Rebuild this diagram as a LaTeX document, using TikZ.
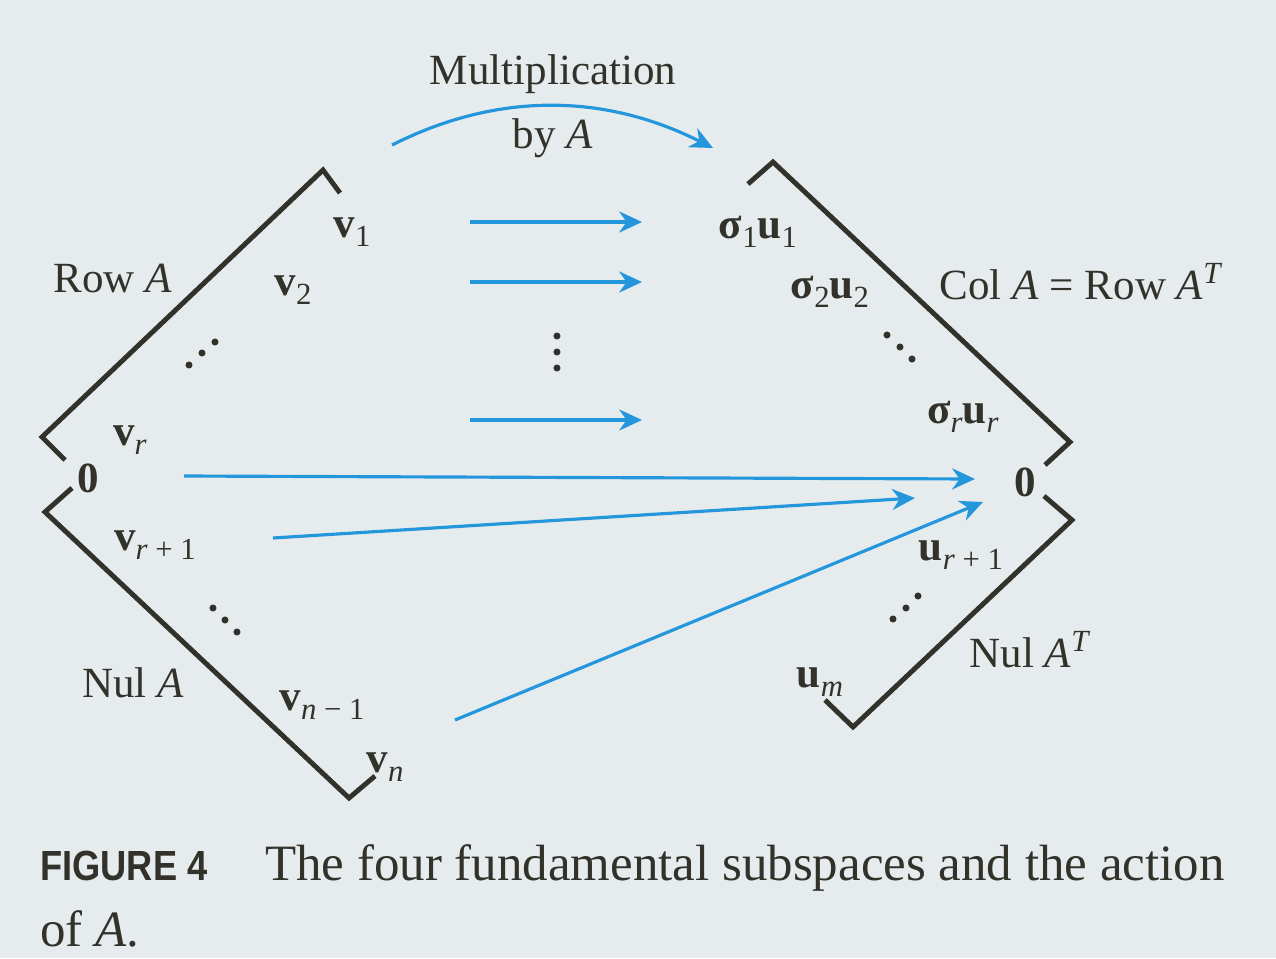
\documentclass[tikz,border=0pt]{standalone}
\usepackage{fontspec}
\usepackage{graphicx}
\setmainfont{Liberation Serif}
\newfontfamily\figsans[FakeStretch=0.86]{Liberation Sans}
\usetikzlibrary{arrows.meta}
\definecolor{bg}{RGB}{230,236,238}
\definecolor{ink}{RGB}{50,50,42}
\definecolor{arr}{RGB}{35,150,220}
\newcommand{\sbs}[1]{\raisebox{-5pt}{\fontsize{17.5}{20}\selectfont\mdseries #1}}
\newcommand{\sps}[1]{\raisebox{9pt}{\fontsize{17.5}{20}\selectfont #1}}
\newcommand{\bv}[2]{\textbf{#1}\sbs{#2}}
\tikzset{
  frame/.style={draw=ink, line width=2.8pt, line join=miter},
  map/.style={draw=arr, line width=1.8pt, -{Stealth[length=13pt,width=12pt]}},
  lbl/.style={text=ink, font=\fontsize{24.5}{29}\selectfont, inner sep=0pt},
  captext/.style={text=ink, font=\fontsize{29}{35}\selectfont, inner sep=0pt, anchor=base west},
  dotmark/.style={fill=ink, circle, inner sep=0pt, minimum size=4pt}
}
\begin{document}
\begin{tikzpicture}[x=0.02cm, y=-0.02cm]
\fill[bg] (0,0) rectangle (1276,958);
\useasboundingbox (0,0) rectangle (1276,958);

% left figure: Row A and Nul A
\coordinate (RAa) at (65,460);
\coordinate (RAb) at (42,437);
\coordinate (RAc) at (323,170);
\coordinate (RAd) at (340,193);
\draw[frame] (RAa) -- (RAb) -- (RAc) -- (RAd);
\coordinate (NAa) at (72,488);
\coordinate (NAb) at (45,512);
\coordinate (NAc) at (349,798);
\coordinate (NAd) at (375,776);
\draw[frame] (NAa) -- (NAb) -- (NAc) -- (NAd);

% right figure: Col A and Nul A^T
\coordinate (CAa) at (748,184);
\coordinate (CAb) at (773,162);
\coordinate (CAc) at (1070,442);
\coordinate (CAd) at (1045,465);
\draw[frame] (CAa) -- (CAb) -- (CAc) -- (CAd);
\coordinate (NTa) at (1044,496);
\coordinate (NTb) at (1072,520);
\coordinate (NTc) at (853,727);
\coordinate (NTd) at (825,700);
\draw[frame] (NTa) -- (NTb) -- (NTc) -- (NTd);

% labels
\node[lbl] (mult) at (553,74) {Multiplication};
\node[lbl] (byA) at (553,138) {by \textit{A}};
\node[lbl] (v1) at (352,232) {\bv{v}{1}};
\node[lbl] (rowA) at (113,278) {Row \textit{A}};
\node[lbl] (v2) at (293,290) {\bv{v}{2}};
\node[lbl] (vr) at (130,440) {\bv{v}{\textit{r}}};
\node[lbl] (zl) at (88,478) {\textbf{0}};
\node[lbl] (vr1) at (155,545) {\bv{v}{\textit{r} + 1}};
\node[lbl] (nulA) at (133,683) {Nul \textit{A}};
\node[lbl] (vn1) at (322,705) {\bv{v}{\textit{n} − 1}};
\node[lbl] (vn) at (385,767) {\bv{v}{\textit{n}}};
\node[lbl] (s1u1) at (758,232) {\textbf{σ}\sbs{1}\bv{u}{1}};
\node[lbl] (s2u2) at (830,292) {\textbf{σ}\sbs{2}\bv{u}{2}};
\node[lbl] (colA) at (1081,282) {Col \textit{A} = Row \textit{A}\sps{\textit{T}}};
\node[lbl] (srur) at (963,417) {\textbf{σ}\sbs{\textit{r}}\bv{u}{\textit{r}}};
\node[lbl] (zr) at (1025,482) {\textbf{0}};
\node[lbl] (ur1) at (961,555) {\bv{u}{\textit{r} + 1}};
\node[lbl] (nulAT) at (1030,650) {Nul \textit{A}\sps{\textit{T}}};
\node[lbl] (um) at (820,682) {\bv{u}{\textit{m}}};

% dots
\foreach \i/\x/\y in {a/189/365, b/202/353, c/215/342,
                      d/213/608, e/225/620, f/237/632,
                      g/557/336, h/557/352, i/557/368,
                      j/887/335, k/900/347, l/912/359,
                      m/893/619, n/906/608, o/918/596}
  \node[dotmark] (dot\i) at (\x,\y) {};

% arrows
\coordinate (c0) at (392,145);
\coordinate (c1) at (713,148);
\draw[map] (c0) .. controls (497,92) and (604,93) .. (c1);
\coordinate (h1s) at (470,222); \coordinate (h1e) at (642,222);
\coordinate (h2s) at (470,282); \coordinate (h2e) at (642,282);
\coordinate (h3s) at (470,420); \coordinate (h3e) at (642,420);
\draw[map] (h1s) -- (h1e);
\draw[map] (h2s) -- (h2e);
\draw[map] (h3s) -- (h3e);
\coordinate (l1s) at (184,476); \coordinate (l1e) at (975,479);
\coordinate (l2s) at (273,538); \coordinate (l2e) at (915,498);
\coordinate (l3s) at (455,720); \coordinate (l3e) at (983,502);
\draw[map] (l1s) -- (l1e);
\draw[map] (l2s) -- (l2e);
\draw[map] (l3s) -- (l3e);

% caption
\node[anchor=base west, inner sep=0pt, text=ink, font=\figsans\bfseries\fontsize{24}{28}\selectfont] (fig) at (40,880) {FIGURE 4};
\node[captext] (capt) at (265,880) {The four fundamental subspaces and the action};
\node[captext] (capt2) at (40,946) {of \textit{A}.};
\end{tikzpicture}
\end{document}
